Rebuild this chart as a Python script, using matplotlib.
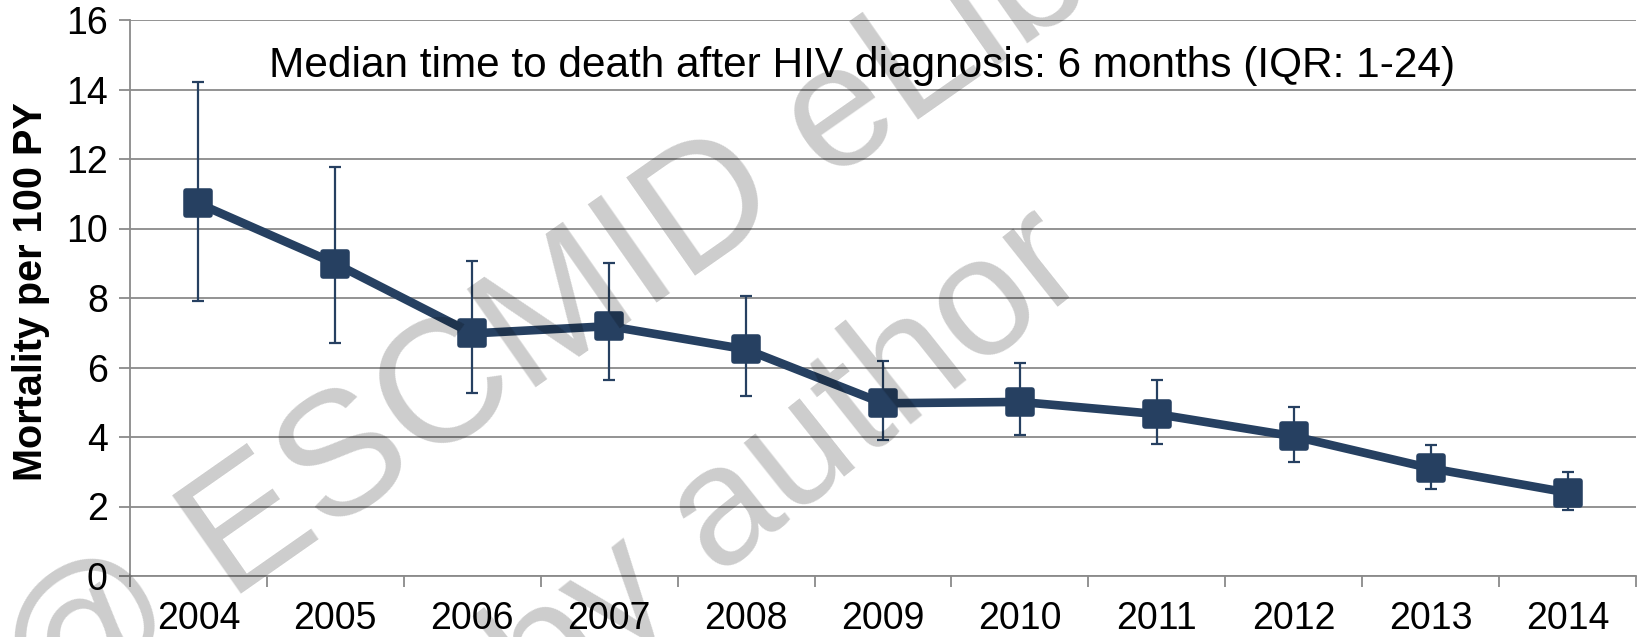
import matplotlib
matplotlib.use("Agg")
import matplotlib.pyplot as plt
from matplotlib.markers import MarkerStyle
import numpy as np

# ---- data ----
years = ["2004", "2005", "2006", "2007", "2008", "2009", "2010", "2011", "2012", "2013", "2014"]
mortality = [10.72, 8.99, 6.98, 7.19, 6.52, 4.97, 5.01, 4.66, 4.02, 3.10, 2.40]
ci_lower = [7.91, 6.70, 5.27, 5.64, 5.17, 3.91, 4.05, 3.80, 3.27, 2.49, 1.90]
ci_upper = [14.21, 11.76, 9.07, 9.02, 8.06, 6.20, 6.14, 5.64, 4.87, 3.78, 2.98]
y_ticks = [0, 2, 4, 6, 8, 10, 12, 14, 16]
annotation = "Median time to death after HIV diagnosis: 6 months (IQR: 1-24)"
y_label = "Mortality per 100 PY"

plt.rcParams['font.family'] = ['Liberation Sans', 'DejaVu Sans']

W, H = 1637, 637
fig = plt.figure(figsize=(W / 100, H / 100), dpi=100)
ax_left, ax_right, ax_top, ax_bottom = 130, 1636, 20, 576
ax = fig.add_axes([ax_left / W, 1 - ax_bottom / H, (ax_right - ax_left) / W, (ax_bottom - ax_top) / H])

navy = "#264061"
grid_c = "#8a8a8a"

x = np.arange(len(years))
m = np.array(mortality)
yerr = np.vstack([m - np.array(ci_lower), np.array(ci_upper) - m])

ax.errorbar(x, m, yerr=yerr, fmt='none', ecolor=navy, elinewidth=1.6,
            capsize=4, capthick=1.6, zorder=3)
ax.plot(x, m, color=navy, lw=6.2, zorder=4, solid_joinstyle='round')
ax.plot(x, m, linestyle='none', marker=MarkerStyle('s', joinstyle='round'),
        ms=17, mfc=navy, mec=navy, mew=4, zorder=5)

ax.set_xlim(-0.5, len(years) - 0.5)
ax.set_ylim(0, 16)
ax.set_yticks(y_ticks)
ax.set_yticklabels([str(v) for v in y_ticks], fontsize=27)
ax.yaxis.grid(True, color=grid_c, lw=1.3)
ax.set_axisbelow(True)

ax.set_xticks(np.arange(-0.5, len(years), 1.0))
ax.set_xticklabels([])
ax.set_xticks(x, minor=True)
ax.set_xticklabels(years, minor=True, fontsize=27)
ax.tick_params(axis='x', which='major', length=8, width=1.3, color=grid_c, direction='out')
ax.tick_params(axis='x', which='minor', length=0, pad=18)
ax.tick_params(axis='y', length=8, width=1.3, color=grid_c, pad=8)

for s in ['top', 'right']:
    ax.spines[s].set_visible(False)
for s in ['left', 'bottom']:
    ax.spines[s].set_color(grid_c)
    ax.spines[s].set_linewidth(1.3)

# annotation
fig.text(862 / W, 1 - 77 / H, annotation, fontsize=30.5, ha='center', va='baseline')

# y label
fig.text(31 / W, 1 - 292 / H, y_label, fontsize=28.5, fontweight='bold',
         rotation=90, ha='center', va='center')

# watermark
wm_kw = dict(color='black', alpha=0.2, rotation_mode='anchor',
             ha='left', va='baseline', zorder=10)
fig.text(44 / W, 1 - 732 / H, "@ ESCMID eLibrary", fontsize=126, rotation=35, **wm_kw)
fig.text(540 / W, 1 - 719 / H, "by author", fontsize=122, rotation=38.5, **wm_kw)

fig.savefig("out.png", dpi=100)
